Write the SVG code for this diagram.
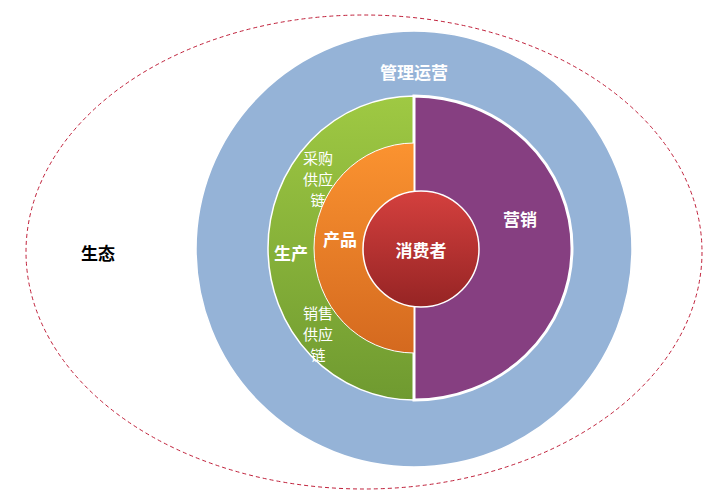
<svg xmlns="http://www.w3.org/2000/svg" width="728" height="504" viewBox="0 0 728 504">
<defs>
<linearGradient id="g" x1="0" y1="0" x2="0" y2="1"><stop offset="0" stop-color="#9fc943"/><stop offset="1" stop-color="#6f9a30"/></linearGradient>
<linearGradient id="o" x1="0" y1="0" x2="0" y2="1"><stop offset="0" stop-color="#fb9330"/><stop offset="1" stop-color="#d4691f"/></linearGradient>
<linearGradient id="r" x1="0" y1="0" x2="0" y2="1"><stop offset="0" stop-color="#d4403e"/><stop offset="1" stop-color="#962424"/></linearGradient>
<style>
text{font-family:"Noto Sans CJK SC","Noto Sans",sans-serif;text-anchor:middle;dominant-baseline:central;fill:#fff}
.b{font-weight:bold;font-size:17px}
.n{font-size:15px}
</style>
</defs>
<g id="eco"><ellipse cx="364" cy="252" rx="338" ry="237" fill="none" stroke="#c0203a" stroke-dasharray="4,3"/><text class="b" x="98" y="252" style="fill:#000">生态</text></g>
<g id="mgmt"><circle cx="414" cy="249" r="218" fill="#95b3d7" stroke="#fff" stroke-width="1.5"/><text class="b" x="414" y="71">管理运营</text></g>
<g id="prod"><path d="M414,96 A146,152 0 0 0 414,400 Z" fill="url(#g)" stroke="#fff" stroke-width="1.5"/><text class="b" x="291" y="252">生产</text>
<text class="n" x="318" y="157">采购</text><text class="n" x="318" y="178">供应</text><text class="n" x="318" y="199">链</text>
<text class="n" x="318" y="312">销售</text><text class="n" x="318" y="333">供应</text><text class="n" x="318" y="354">链</text></g>
<g id="mkt"><path d="M414,96 A158,152 0 0 1 414,400 Z" fill="#863f81" stroke="#fff" stroke-width="3"/><text class="b" x="520" y="218">营销</text></g>
<g id="product"><path d="M414,143 A100,105 0 0 0 414,353 Z" fill="url(#o)" stroke="#fff" stroke-width="1"/><text class="b" x="340" y="238">产品</text></g>
<g id="consumer"><circle cx="421" cy="249" r="58" fill="url(#r)" stroke="#fff" stroke-width="1.5"/><text class="b" x="421" y="249">消费者</text></g>
<g id="connectors"/>
</svg>
